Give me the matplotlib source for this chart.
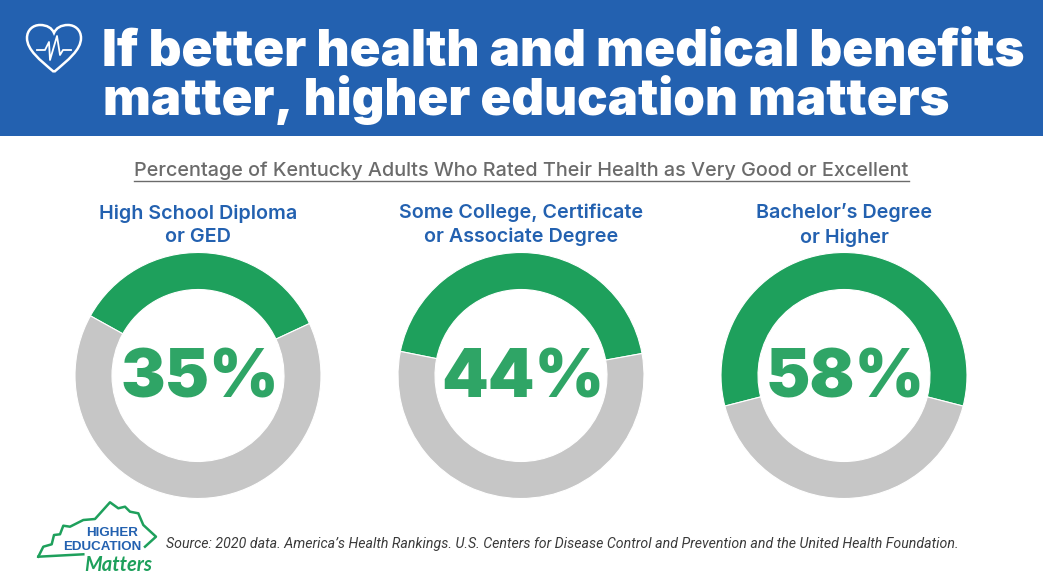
import matplotlib
matplotlib.use('Agg')
from matplotlib import pyplot as plt
from matplotlib.patches import PathPatch, Rectangle
from matplotlib.path import Path

title_lines = ['If better health and medical benefits', 'matter, higher education matters']
subtitle = 'Percentage of Kentucky Adults Who Rated Their Health as Very Good or Excellent'
groups = ['High School Diploma\nor GED', 'Some College, Certificate\nor Associate Degree', 'Bachelor\u2019s Degree\nor Higher']
values = [35, 44, 58]
source = 'Source: 2020 data. America\u2019s Health Rankings. U.S. Centers for Disease Control and Prevention and the United Health Foundation.'

W, H = 1043, 582
blue = '#2361b0'
green = '#1ea05c'
green_txt = '#2fa566'
grey = '#c6c6c6'

fig = plt.figure(figsize=(W/100, H/100), dpi=100, facecolor='white')
# pixel canvas for text and decoration
bg = fig.add_axes([0, 0, 1, 1])
bg.set_xlim(0, W)
bg.set_ylim(H, 0)
bg.axis('off')
bg.add_patch(Rectangle((0, 0), W, 136, color=blue, lw=0))

bg.text(102, 65, title_lines[0], color='white', fontsize=36.8, family='Inter', weight='black', va='baseline', ha='left')
bg.text(103, 115, title_lines[1], color='white', fontsize=36.6, family='Inter', weight='black', va='baseline', ha='left')

# heart icon
heart = Path([(54, 72), (40, 60), (27, 50), (27, 38), (27, 30), (33, 25), (40, 25), (47, 25), (52, 28), (54, 33),
              (56, 28), (61, 25), (68, 25), (75, 25), (81, 30), (81, 38), (81, 50), (68, 60), (54, 72)],
             [Path.MOVETO] + [Path.CURVE4]*18)
bg.add_patch(PathPatch(heart, fc='none', ec='white', lw=1.8))
pulse_x = [37, 45, 49, 50, 57, 60, 63, 71]
pulse_y = [50, 50, 42, 60, 36, 55, 50, 50]
bg.plot(pulse_x, pulse_y, color='white', lw=1.3)

bg.text(521.5, 171, subtitle, color='#6b6b6b', fontsize=14.3, family='Inter', weight='medium', ha='center', va='center')
bg.plot([134, 909], [181, 181], color='#6b6b6b', lw=1)

centers = [198, 521, 844]
mid_angles = [88, 89.5, 90]
cy = 375.5
R = 123
inner = 86
for cx, val, name, mid in zip(centers, values, groups, mid_angles):
    ax = fig.add_axes([(cx-R)/W, 1-(cy+R)/H, 2*R/W, 2*R/H])
    # green slice centred on top of the ring
    start = mid - val*3.6/2
    ax.pie([val, 100-val], colors=[green, grey], startangle=start, radius=1,
           counterclock=True, wedgeprops=dict(width=1-inner/R, edgecolor='white', linewidth=0.8))
    ax.set_xlim(-1, 1)
    ax.set_ylim(-1, 1)
    ax.text(1.5/R, -(398-cy)/R, '%d%%' % val, color=green_txt, fontsize=48, family='Inter', weight='black', ha='center', va='baseline')
    bg.text(cx, 225, name, color=blue, fontsize=14.2, family='Inter', weight='semibold', ha='center', va='center', linespacing=1.38)

# logo
ky_x = [38.3, 43.3, 51.7, 54, 60, 63.3, 70, 83.3, 95, 110, 118.3, 125, 130, 138.3, 143.3, 156, 145]
ky_y = [556.7, 546.7, 544.3, 535, 534.3, 525.7, 526.7, 520, 519, 502.3, 508.3, 506.7, 511.7, 513.3, 525, 536.7, 546.7]
bg.plot(ky_x, ky_y, color=green, lw=1.8)
bg.plot([38.3, 83.3], [556.7, 554.3], color=green, lw=1.8)
bg.text(112, 535.5, 'HIGHER', color=blue, fontsize=9.6, family='Liberation Sans', weight='bold', ha='center', va='baseline')
bg.text(102, 550, 'EDUCATION', color=blue, fontsize=9.6, family='Liberation Sans', weight='bold', ha='center', va='baseline')
bg.text(118, 571, 'Matters', color=green, fontsize=14.5, family='Lato', style='italic', weight='bold', ha='center', va='baseline')

bg.text(166, 544, source, color='#3a3a3a', fontsize=10.2, family='Roboto', style='italic', ha='left', va='center')

fig.savefig('out.png', dpi=100)
